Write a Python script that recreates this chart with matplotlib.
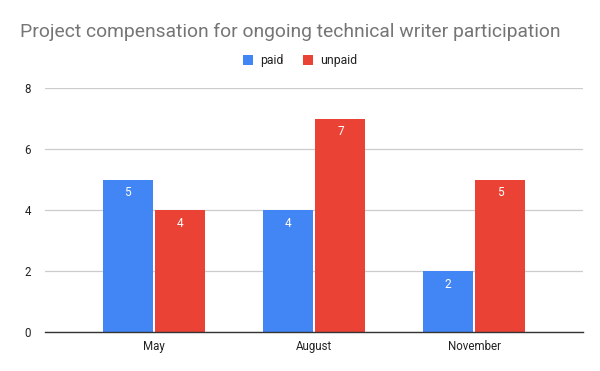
import matplotlib.pyplot as plt
import numpy as np

# dados do gráfico
meses = ['May', 'August', 'November']
pagos = [5, 4, 2]
nao_pagos = [4, 7, 5]
y_ticks = [0, 2, 4, 6, 8]

AZUL = '#4285F4'
VERMELHO = '#EA4335'

plt.rcParams['font.family'] = ['Roboto', 'DejaVu Sans']

fig = plt.figure(figsize=(6, 3.71), dpi=100)
ax = fig.add_axes([0.075, 0.1051, 0.897, 0.6577])

x = np.arange(len(meses))
largura = 0.3125
desloc = 0.164

barras_p = ax.bar(x - desloc, pagos, largura, color=AZUL, label='paid', zorder=3)
barras_n = ax.bar(x + desloc, nao_pagos, largura, color=VERMELHO, label='unpaid', zorder=3)

# rótulos de valor dentro das barras
for barras in (barras_p, barras_n):
    for b in barras:
        ax.annotate(f'{int(b.get_height())}',
                    (b.get_x() + b.get_width() / 2, b.get_height()),
                    xytext=(0, -5), textcoords='offset points',
                    ha='center', va='top', color='white', fontsize=8.5, zorder=4)

ax.set_xlim(-0.681, 2.681)
ax.set_ylim(0, 8)
ax.set_xticks(x)
ax.set_xticklabels(meses)
ax.set_yticks(y_ticks)
ax.tick_params(axis='both', length=0, labelsize=8.3, labelcolor='#222222')
ax.tick_params(axis='x', pad=6)
ax.tick_params(axis='y', pad=10)

ax.grid(axis='y', color='#cccccc', linewidth=0.9, zorder=0)
for lado in ('top', 'right', 'left'):
    ax.spines[lado].set_visible(False)
ax.spines['bottom'].set_color('#333333')
ax.spines['bottom'].set_linewidth(1.0)
ax.spines['bottom'].set_zorder(5)

fig.text(0.033, 0.915, 'Project compensation for ongoing technical writer participation',
         fontsize=13.85, color='#757575', ha='left', va='center')

fig.legend(loc='center', bbox_to_anchor=(0.5, 0.836), ncol=2, frameon=False,
           fontsize=8.8, handlelength=0.8, handleheight=0.8, handletextpad=0.6,
           columnspacing=1.6, labelcolor='#222222')

fig.savefig('out.png', dpi=100)
